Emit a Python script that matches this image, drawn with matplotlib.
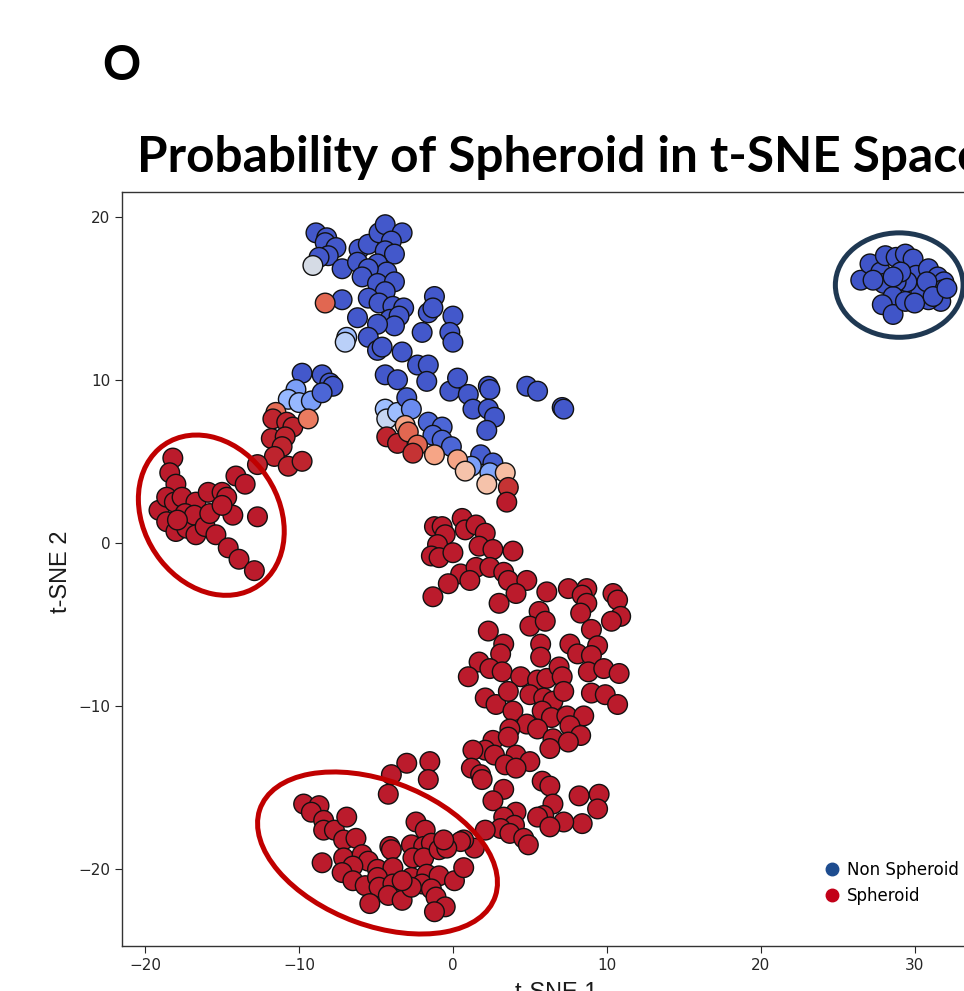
import matplotlib
matplotlib.use('Agg')
import matplotlib.pyplot as plt
import numpy as np
from matplotlib.patches import Ellipse
from matplotlib.lines import Line2D

# isolated non-spheroid cluster (top right)
far_x = [26.5, 27.1, 27.8, 28.1, 28.8, 29.4, 29.9, 30.1, 30.9, 31.5, 31.9, 31.8, 31.7, 30.9, 30.4,
         29.5, 28.8, 28.0, 28.6, 27.9, 28.6, 29.4, 30.0, 29.1, 28.6, 30.8, 31.2, 27.3, 32.1]
far_y = [16.1, 17.1, 16.6, 17.6, 17.5, 17.7, 17.4, 16.4, 16.8, 16.3, 16.0, 15.5, 14.8, 14.9, 15.4,
         16.0, 16.0, 15.9, 15.1, 14.6, 14.0, 14.8, 14.7, 16.6, 16.3, 16.0, 15.1, 16.1, 15.6]
far_p = 0.02

# upper part of main cloud (mostly non-spheroid)
upper_x = [-8.9, -8.2, -8.3, -7.6, -8.1, -8.7, -9.1, -7.2, -6.1, -6.2, -5.5, -4.8, -4.4, -3.3, -4.0,
           -4.4, -3.8, -4.9, -4.3, -5.5, -5.9, -4.9, -3.8, -4.4, -5.5, -4.8, -3.9, -3.2, -4.1, -3.5,
           -3.8, -4.9, -6.2, -7.2, -8.3, -6.9, -7.0, -5.5, -4.9, -4.6, -3.3, -2.0, -1.6, -1.2, -1.3,
           0.0, -0.2, 0.0, -4.4, -3.6, -2.3, -1.6, -1.7, -0.2, 0.3, 1.0, 2.3, 2.4, 4.8, 5.5,
           7.1, 7.2, 1.3, 2.3, 2.7, 2.2, -1.6, -0.7, -1.3, -0.7, -0.1, 1.8, 2.6, 1.2, 2.4,
           -4.4, -4.3, -3.6, -3.0, -2.7]
upper_y = [19.0, 18.7, 18.4, 18.1, 17.6, 17.5, 17.0, 16.8, 18.0, 17.2, 18.3, 19.0, 19.5, 19.0, 18.5,
           17.9, 17.7, 17.1, 16.6, 16.8, 16.3, 15.9, 16.0, 15.4, 15.0, 14.7, 14.5, 14.4, 13.7, 13.9,
           13.3, 13.4, 13.8, 14.9, 14.7, 12.6, 12.3, 12.6, 11.8, 12.0, 11.7, 12.9, 14.1, 15.1, 14.4,
           13.9, 12.9, 12.3, 10.3, 10.0, 10.9, 10.9, 9.9, 9.3, 10.1, 9.1, 9.6, 9.4, 9.6, 9.3,
           8.3, 8.2, 8.2, 8.2, 7.7, 6.9, 7.4, 7.1, 6.6, 6.3, 5.9, 5.4, 4.9, 4.7, 4.3,
           8.2, 7.6, 8.0, 8.9, 8.2]
upper_p = [0.03, 0.03, 0.03, 0.03, 0.03, 0.03, 0.47, 0.03, 0.03, 0.03, 0.03, 0.03, 0.03, 0.03, 0.03,
           0.03, 0.03, 0.03, 0.03, 0.03, 0.03, 0.03, 0.03, 0.03, 0.03, 0.03, 0.03, 0.03, 0.03, 0.03,
           0.03, 0.03, 0.03, 0.03, 0.86, 0.30, 0.38, 0.03, 0.03, 0.03, 0.03, 0.03, 0.03, 0.03, 0.03,
           0.03, 0.03, 0.03, 0.03, 0.03, 0.03, 0.03, 0.03, 0.03, 0.03, 0.03, 0.03, 0.03, 0.03, 0.03,
           0.03, 0.03, 0.03, 0.03, 0.03, 0.03, 0.06, 0.06, 0.06, 0.06, 0.06, 0.04, 0.04, 0.20, 0.22,
           0.30, 0.42, 0.30, 0.04, 0.15]

# mixed band between the two classes
trans_x = [-4.3, -3.6, -3.1, -2.9, -2.3, -2.6, -1.2, 0.3, 0.8, 3.4, 2.2, 3.6, 3.5]
trans_y = [6.5, 6.1, 7.2, 6.8, 6.0, 5.5, 5.4, 5.1, 4.4, 4.3, 3.6, 3.4, 2.5]
trans_p = [0.97, 0.97, 0.72, 0.86, 0.86, 0.95, 0.72, 0.72, 0.63, 0.65, 0.63, 0.95, 0.98]

# left arm (blue tip, red body)
arm_x = [-9.8, -8.5, -8.0, -7.8, -10.2, -10.7, -10.0, -9.2, -8.5, -11.5, -11.7, -10.8, -10.4, -9.4,
         -11.8, -10.9, -11.1, -11.6, -10.7, -9.8, -12.7]
arm_y = [10.4, 10.3, 9.8, 9.6, 9.4, 8.8, 8.6, 8.7, 9.2, 8.0, 7.6, 7.4, 7.1, 7.6,
         6.4, 6.5, 5.9, 5.3, 4.7, 5.0, 4.8]
arm_p = [0.03, 0.03, 0.03, 0.03, 0.20, 0.28, 0.28, 0.20, 0.06, 0.85, 0.97, 0.97, 0.97, 0.82,
         0.97, 0.97, 0.97, 0.97, 0.97, 0.97, 0.97]

# spheroid cluster on the far left
left_x = [-18.2, -18.4, -18.0, -14.1, -13.5, -19.1, -18.6, -18.1, -17.6, -16.7, -15.9, -15.0, -14.7,
          -14.3, -12.7, -18.6, -18.0, -17.4, -17.3, -16.8, -16.7, -16.1, -15.8, -15.4, -14.6, -13.9,
          -12.9, -17.9, -15.0]
left_y = [5.2, 4.3, 3.6, 4.1, 3.6, 2.0, 2.8, 2.5, 2.8, 2.5, 3.1, 3.1, 2.8,
          1.7, 1.6, 1.3, 0.7, 1.8, 0.9, 1.7, 0.5, 1.0, 1.8, 0.5, -0.3, -1.0,
          -1.7, 1.4, 2.3]

# main spheroid body
main_x = [-1.2, -0.7, -0.5, 0.6, 0.8, 1.5, 2.1, -1.0, -1.4, -0.9,
          0.0, 1.7, 2.6, 3.9, 0.5, 1.5, 2.4, 1.1, -0.3, 3.3,
          3.6, 4.8, 4.1, 3.0, -1.3, 6.1, 7.5, 8.7, 8.4, 8.7,
          8.3, 10.4, 10.7, 10.9, 10.3, 5.6, 5.0, 6.0, 9.0, 2.3,
          3.3, 3.1, 5.7, 5.7, 7.6, 9.4, 8.1, 9.0, 1.7, 2.4,
          1.0, 3.2, 4.4, 5.5, 6.1, 6.9, 7.1, 8.8, 9.8, 10.8,
          2.1, 2.8, 3.6, 3.9, 5.0, 5.9, 6.5, 5.8, 6.4, 7.2,
          7.4, 9.0, 9.9, 10.7, 8.5, 4.8, 5.5, 3.7, 7.6, 8.3,
          6.5, 7.5, 6.3, 2.6, 3.6, 2.1, 1.3, 2.7, 4.1, 5.0,
          3.4, 4.1, 1.2, 1.8, -3.0, -1.5]
main_y = [1.0, 1.0, 0.5, 1.5, 0.8, 1.1, 0.6, -0.1, -0.8, -0.9,
          -0.6, -0.2, -0.4, -0.5, -1.9, -1.5, -1.5, -2.3, -2.5, -1.8,
          -2.3, -2.3, -3.1, -3.7, -3.3, -3.0, -2.8, -2.8, -3.2, -3.7,
          -4.3, -3.1, -3.5, -4.5, -4.8, -4.2, -5.1, -4.8, -5.3, -5.4,
          -6.2, -6.8, -6.2, -7.0, -6.2, -6.3, -6.8, -6.9, -7.3, -7.7,
          -8.2, -7.9, -8.2, -8.4, -8.3, -7.6, -8.2, -7.9, -7.7, -8.0,
          -9.5, -9.9, -9.1, -10.3, -9.3, -9.5, -9.7, -10.3, -10.7, -9.1,
          -10.6, -9.2, -9.3, -9.9, -10.6, -11.1, -11.4, -11.4, -11.2, -11.8,
          -12.0, -12.2, -12.6, -12.1, -11.9, -12.7, -12.7, -13.0, -13.0, -13.4,
          -13.6, -13.8, -13.8, -14.2, -13.5, -13.4]

# lower spheroid points
low_x = [-1.6, -4.0, -4.2, 1.9, 3.3, 2.6, 5.8, 6.3, 8.2, 9.5, 9.4, 8.4, 7.2, 6.5, 5.9, 5.5, 6.3,
         4.1, 3.3, 4.0, 3.1, 3.7, 2.1, 4.6, 4.9, 1.4, 0.7, 0.5,
         -9.7, -8.7, -9.2, -8.4, -8.4, -7.7, -6.9, -7.1, -6.3, -8.5, -7.1, -5.9, -5.5, -6.5, -7.2,
         -6.5, -5.7, -4.9, -4.1, -4.0, -3.9, -4.9, -4.8, -3.9, -4.2, -3.3, -5.4, -2.7, -2.4, -1.8,
         -1.9, -1.4, -2.6, -1.9, -0.9, -2.7, -1.7, -2.0, -0.9, -1.4, -1.1, -0.5, -1.2, -2.7, 0.1,
         0.7, -0.4, -0.6, -3.3]
low_y = [-14.5, -14.2, -15.4, -14.5, -15.1, -15.8, -14.6, -14.9, -15.5, -15.4, -16.3, -17.2, -17.1,
         -16.0, -16.7, -16.8, -17.4, -16.5, -16.8, -17.3, -17.5, -17.8, -17.6, -18.1, -18.5, -18.7,
         -18.2, -18.3,
         -16.0, -16.1, -16.5, -17.0, -17.6, -17.6, -16.8, -18.2, -18.1, -19.6, -19.3, -19.1, -19.5,
         -19.8, -20.2, -20.7, -21.0, -20.0, -18.6, -18.8, -19.9, -20.5, -21.1, -20.9, -21.6, -21.9,
         -22.1, -18.5, -17.1, -17.6, -18.6, -18.4, -19.3, -19.3, -18.8, -20.5, -20.3, -20.9, -20.4,
         -21.2, -21.7, -22.3, -22.6, -21.1, -20.7, -19.9, -18.7, -18.2, -20.7]
red_p = 0.98

tsne1 = np.concatenate([far_x, upper_x, trans_x, arm_x, left_x, main_x, low_x])
tsne2 = np.concatenate([far_y, upper_y, trans_y, arm_y, left_y, main_y, low_y])
prob = np.concatenate([np.full(len(far_x), far_p), upper_p, trans_p, arm_p,
                       np.full(len(left_x) + len(main_x) + len(low_x), red_p)])

fig = plt.figure(figsize=(9.64, 9.91), dpi=100)
ax = fig.add_axes([0.1266, 0.0454, 0.9004, 0.7608])

ax.scatter(tsne1, tsne2, c=prob, cmap='coolwarm', vmin=0, vmax=1, s=200,
           edgecolors='#111111', linewidths=1.0, zorder=3)

# hand-drawn highlight ellipses
ax.add_patch(Ellipse((-15.7, 1.7), 10.6, 8.6, angle=-50, fill=False, ec='#c00000', lw=3.6, zorder=4))
ax.add_patch(Ellipse((-4.9, -19.0), 16.2, 8.9, angle=-19, fill=False, ec='#c00000', lw=3.6, zorder=4))
ax.add_patch(Ellipse((29.0, 15.8), 8.3, 6.4, angle=0, fill=False, ec='#1f3852', lw=3.6, zorder=4))

ax.set_xlim(-21.5, 34.9)
ax.set_ylim(-24.7, 21.5)
ax.set_xticks([-20, -10, 0, 10, 20, 30])
ax.set_yticks([-20, -10, 0, 10, 20])
ax.tick_params(labelsize=11, colors='#262626', length=5)
for sp in ax.spines.values():
    sp.set_color('#333333')
    sp.set_linewidth(1.0)

ax.set_xlabel('t-SNE 1', fontsize=17, family='Liberation Sans', color='#1a1a1a')
ax.xaxis.set_label_coords(0.5, -0.048)
ax.set_ylabel('t-SNE 2', fontsize=17, family='Liberation Sans', color='#1a1a1a')
ax.yaxis.set_label_coords(-0.058, 0.496)

handles = [Line2D([], [], marker='o', ls='none', color='#1d4c8f', markersize=9),
           Line2D([], [], marker='o', ls='none', color='#c20018', markersize=9)]
ax.legend(handles, ['Non Spheroid', 'Spheroid'], loc='center left',
          bbox_to_anchor=(0.791, 0.084), frameon=False, fontsize=12,
          handlelength=1.0, handletextpad=0.4, labelspacing=0.5, borderpad=0.4)

# title sized so that "...Spac" ends near the right edge like the slide crop
title = 'Probability of Spheroid in t-SNE Space'
renderer = fig.canvas.get_renderer()
probe = fig.text(0, 0, title[:-1], fontsize=35, fontweight='bold', family='Lato')
w = probe.get_window_extent(renderer).width
probe.remove()
title_size = 35 * (957 - 137) / w

fig.text(0.1421, 0.8264, title, fontsize=title_size, fontweight='bold', family='Lato', va='baseline')
fig.text(0.1058, 0.9193, 'O', fontsize=34, fontweight='bold', family='Lato', va='baseline')

fig.savefig('out.png', dpi=100)
